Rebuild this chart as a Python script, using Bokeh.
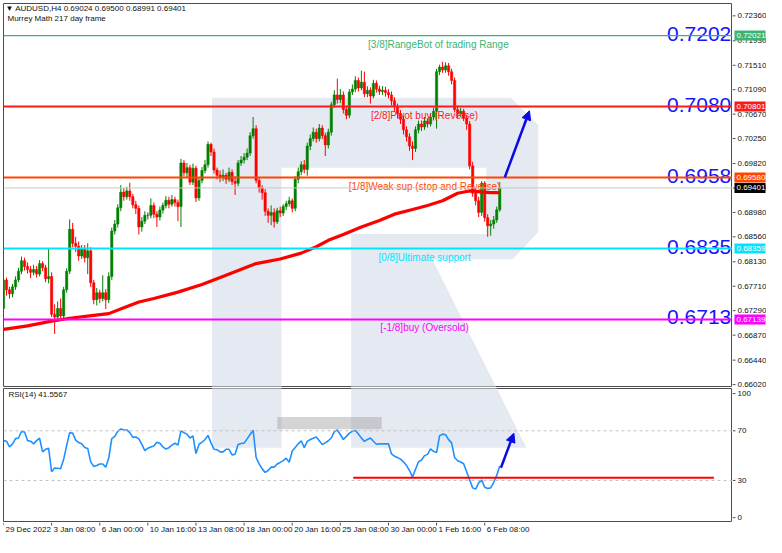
import numpy as np
from bokeh.plotting import figure
from bokeh.layouts import column, row
from bokeh.models import Range1d, Label, Arrow, NormalHead, Span, ColumnDataSource, Spacer
from bokeh.core.properties import value
from bokeh.embed import file_html
from bokeh.resources import INLINE

# ---------------- data ----------------
first_open = 0.6733
close = [0.6782, 0.6765, 0.6758, 0.6770, 0.6782, 0.6797, 0.6815, 0.6805, 0.6800, 0.6795,
         0.6800, 0.6792, 0.6810, 0.6803, 0.6784, 0.6788, 0.6723, 0.6718, 0.6733, 0.6720,
         0.6765, 0.6797, 0.6869, 0.6845, 0.6840, 0.6823, 0.6835, 0.6820, 0.6832, 0.6777,
         0.6748, 0.6760, 0.6750, 0.6760, 0.6748, 0.6788, 0.6866, 0.6878, 0.6906, 0.6933,
         0.6925, 0.6935, 0.6925, 0.6911, 0.6905, 0.6873, 0.6883, 0.6893, 0.6893, 0.6910,
         0.6895, 0.6890, 0.6902, 0.6910, 0.6919, 0.6912, 0.6920, 0.6915, 0.6908, 0.6983,
         0.6966, 0.6975, 0.6950, 0.6974, 0.6923, 0.6953, 0.6970, 0.6980, 0.7015, 0.7002,
         0.6971, 0.6962, 0.6958, 0.6962, 0.6955, 0.6967, 0.6951, 0.6948, 0.6983, 0.6988,
         0.6993, 0.7000, 0.7030, 0.7042, 0.6953, 0.6940, 0.6932, 0.6900, 0.6893, 0.6898,
         0.6882, 0.6901, 0.6897, 0.6908, 0.6913, 0.6918, 0.6905, 0.6955, 0.6968, 0.6980,
         0.6972, 0.7012, 0.7025, 0.7036, 0.7025, 0.7043, 0.7030, 0.7014, 0.7036, 0.7083,
         0.7100, 0.7092, 0.7100, 0.7075, 0.7065, 0.7105, 0.7110, 0.7125, 0.7112, 0.7122,
         0.7102, 0.7108, 0.7098, 0.7120, 0.7110, 0.7106, 0.7108, 0.7104, 0.7100, 0.7090,
         0.7080, 0.7068, 0.7058, 0.7040, 0.7028, 0.7012, 0.7008, 0.7040, 0.7050, 0.7045,
         0.7055, 0.7050, 0.7062, 0.7072, 0.7140, 0.7148, 0.7143, 0.7150, 0.7140, 0.7125,
         0.7075, 0.7068, 0.7072, 0.7060, 0.7050, 0.6978, 0.6931, 0.6918, 0.6898, 0.6948,
         0.6889, 0.6875, 0.6878, 0.6885, 0.69024, 0.69401]
high = [0.6790, 0.6786, 0.6770, 0.6775, 0.6788, 0.6803, 0.6822, 0.6820, 0.6812, 0.6806,
        0.6808, 0.6806, 0.6816, 0.6814, 0.6808, 0.6835, 0.6795, 0.6740, 0.6745, 0.6750,
        0.6770, 0.6802, 0.6886, 0.6880, 0.6856, 0.6848, 0.6842, 0.6842, 0.6845, 0.6838,
        0.6782, 0.6768, 0.6765, 0.6790, 0.6766, 0.6795, 0.6872, 0.6885, 0.6912, 0.6945,
        0.6940, 0.6942, 0.6949, 0.6930, 0.6918, 0.6910, 0.6890, 0.6900, 0.6898, 0.6922,
        0.6915, 0.6900, 0.6908, 0.6915, 0.6926, 0.6925, 0.6928, 0.6925, 0.6920, 0.6990,
        0.6988, 0.6983, 0.6980, 0.6982, 0.6978, 0.6958, 0.6976, 0.6988, 0.7020, 0.7018,
        0.7008, 0.6975, 0.6970, 0.6972, 0.6966, 0.6975, 0.6972, 0.6960, 0.6988, 0.6995,
        0.7000, 0.7008, 0.7036, 0.7062, 0.7048, 0.6958, 0.6945, 0.6938, 0.6905, 0.6910,
        0.6905, 0.6906, 0.6908, 0.6912, 0.6918, 0.6925, 0.6922, 0.6960, 0.6975, 0.6986,
        0.6988, 0.7018, 0.7032, 0.7044, 0.7042, 0.7050, 0.7048, 0.7035, 0.7042, 0.7088,
        0.7108, 0.7128, 0.7110, 0.7106, 0.7080, 0.7110, 0.7118, 0.7132, 0.7130, 0.7142,
        0.7140, 0.7115, 0.7113, 0.7126, 0.7125, 0.7116, 0.7115, 0.7114, 0.7110, 0.7106,
        0.7096, 0.7085, 0.7074, 0.7064, 0.7046, 0.7034, 0.7020, 0.7046, 0.7056, 0.7056,
        0.7062, 0.7060, 0.7068, 0.7078, 0.7145, 0.7152, 0.7157, 0.7156, 0.7155, 0.7145,
        0.7130, 0.7082, 0.7078, 0.7076, 0.7066, 0.7055, 0.6985, 0.6940, 0.6925, 0.6952,
        0.6952, 0.6895, 0.6885, 0.6892, 0.6908, 0.69500]
low = [0.6728, 0.6755, 0.6750, 0.6752, 0.6765, 0.6778, 0.6792, 0.6798, 0.6793, 0.6785,
       0.6790, 0.6786, 0.6788, 0.6797, 0.6778, 0.6776, 0.6718, 0.6689, 0.6710, 0.6712,
       0.6716, 0.6760, 0.6792, 0.6838, 0.6830, 0.6815, 0.6818, 0.6812, 0.6792, 0.6770,
       0.6740, 0.6738, 0.6742, 0.6745, 0.6732, 0.6742, 0.6782, 0.6860, 0.6872, 0.6900,
       0.6918, 0.6920, 0.6918, 0.6905, 0.6895, 0.6860, 0.6865, 0.6878, 0.6886, 0.6888,
       0.6888, 0.6873, 0.6884, 0.6896, 0.6905, 0.6905, 0.6908, 0.6908, 0.6883, 0.6873,
       0.6960, 0.6958, 0.6945, 0.6945, 0.6916, 0.6918, 0.6948, 0.6965, 0.6975, 0.6995,
       0.6965, 0.6955, 0.6950, 0.6952, 0.6947, 0.6950, 0.6945, 0.6928, 0.6943, 0.6978,
       0.6982, 0.6988, 0.6995, 0.7025, 0.6948, 0.6932, 0.6920, 0.6892, 0.6880, 0.6876,
       0.6872, 0.6878, 0.6890, 0.6892, 0.6902, 0.6908, 0.6898, 0.6900, 0.6948, 0.6962,
       0.6965, 0.6961, 0.7005, 0.7020, 0.7018, 0.7020, 0.7024, 0.6995, 0.7008, 0.7030,
       0.7078, 0.7085, 0.7086, 0.7068, 0.7058, 0.7060, 0.7100, 0.7105, 0.7106, 0.7108,
       0.7096, 0.7096, 0.7085, 0.7094, 0.7104, 0.7100, 0.7100, 0.7097, 0.7094, 0.7082,
       0.7072, 0.7060, 0.7050, 0.7032, 0.7020, 0.7004, 0.6988, 0.7002, 0.7034, 0.7038,
       0.7040, 0.7044, 0.7046, 0.7056, 0.7042, 0.7134, 0.7138, 0.7138, 0.7133, 0.7118,
       0.7070, 0.7060, 0.7062, 0.7055, 0.7040, 0.6972, 0.6925, 0.6910, 0.6890, 0.6892,
       0.6882, 0.6856, 0.6858, 0.6870, 0.6880, 0.68991]

ma_bars = [0, 8, 16, 22, 30, 35, 40, 45, 50, 58, 66, 74, 84, 92, 99, 104, 108, 113,
           119, 125, 130, 136, 141, 146, 151, 154, 156, 159, 162, 165]
ma_vals = [0.6697, 0.6703, 0.6711, 0.6716, 0.6721, 0.6724, 0.6734, 0.6744, 0.6750, 0.6761,
           0.6774, 0.6790, 0.6810, 0.6818, 0.6828, 0.6839, 0.6850, 0.6860, 0.6873, 0.6884,
           0.6895, 0.6903, 0.6910, 0.6918, 0.6931, 0.6934, 0.6935, 0.6933, 0.6932, 0.6932]

rsi = [62.1, 61.6, 57.0, 59.5, 63.7, 64.2, 69.5, 69.0, 62.1, 61.6,
       59.5, 62.1, 64.0, 53.0, 55.1, 56.0, 37.0, 40.0, 39.8, 39.4,
       47.0, 58.0, 68.5, 68.1, 62.5, 60.5, 59.5, 56.6, 55.8, 45.0,
       41.3, 42.0, 43.3, 43.3, 40.7, 48.0, 63.7, 65.5, 69.5, 71.5,
       70.7, 70.7, 68.5, 64.7, 65.0, 63.5, 59.0, 54.0, 56.0, 56.9,
       57.7, 60.8, 60.0, 57.0, 55.3, 56.4, 58.5, 60.0, 58.5, 70.0,
       68.5, 67.3, 64.2, 66.0, 51.7, 59.0, 60.8, 63.0, 66.3, 60.3,
       55.1, 54.8, 53.0, 53.0, 55.1, 55.1, 50.6, 51.1, 59.0, 59.8,
       60.1, 63.5, 67.0, 70.5, 48.5, 43.3, 39.3, 36.5, 38.0, 40.7,
       40.7, 43.3, 44.5, 46.0, 47.9, 44.6, 53.7, 56.5, 59.5, 62.0,
       56.5, 61.5, 63.0, 64.0, 65.0, 62.0, 59.0, 60.3, 62.0, 64.2,
       69.4, 70.7, 67.0, 63.0, 65.5, 68.1, 69.6, 70.2, 67.5, 64.2,
       61.5, 63.0, 64.2, 61.6, 59.2, 59.5, 59.5, 59.5, 59.5, 51.5,
       49.5, 48.5, 47.2, 45.0, 42.0, 38.0, 32.8, 39.0, 45.0, 46.5,
       50.0, 51.0, 55.5, 53.5, 52.4, 66.0, 67.3, 66.8, 62.9, 60.3,
       48.5, 45.9, 44.8, 43.5, 37.0, 30.5, 24.0, 23.0, 28.0, 30.2,
       24.5, 23.5, 24.0, 28.5, 34.0, 41.5567]

x_tick_bars = [0, 16, 32, 48, 64, 80, 96, 112, 128, 144, 160]
x_tick_labels = ["29 Dec 2022", "3 Jan 08:00", "6 Jan 00:00", "10 Jan 16:00", "13 Jan 08:00",
                 "18 Jan 00:00", "20 Jan 16:00", "25 Jan 08:00", "30 Jan 00:00", "1 Feb 16:00",
                 "6 Feb 08:00"]
price_ticks = [0.66020, 0.66440, 0.66870, 0.67290, 0.67710, 0.68130, 0.68560, 0.68980,
               0.69400, 0.69820, 0.70250, 0.70670, 0.71090, 0.71510, 0.71930, 0.72360]
price_tick_labels = ["0.66020", "0.66440", "0.66870", "0.67290", "0.67710", "0.68130",
                     "0.68560", "0.68980", "0.69400", "0.69820", "0.70250", "0.70670",
                     "0.71090", "0.71510", "0.71930", "0.72360"]
rsi_ticks = [0, 30, 70, 100]
rsi_tick_labels = ["0", "30", "70", "100"]

mm_levels = [0.72021, 0.70801, 0.69580, 0.68359, 0.67139]
mm_short = ["0.7202", "0.7080", "0.6958", "0.6835", "0.6713"]
mm_box = ["0.72021", "0.70801", "0.69580", "0.68359", "0.67139"]
mm_names = ["[3/8]RangeBot of trading Range", "[2/8]Pivot buy (Reverse)",
            "[1/8]Weak sup (stop and Reverse)", "[0/8]Ultimate support", "[-1/8]buy (Oversold)"]
mm_colors = ["#3cb371", "#ff1a1a", "#ff4500", "#00e5ff", "#ff00ff"]
mm_widths = [1.2, 2, 2, 2, 2]
last_price = 0.69401
last_label = "0.69401"
rsi_support = 32.1
rsi_support_bars = [116.3, 236.2]
arrow_price = [(166.7, 0.69585), (174.9, 0.70728)]
arrow_rsi = [(165.4, 40.2), (169.7, 68.1)]

# ---------------- layout helpers ----------------
FONT = "Liberation Sans"
X0, X1 = 0.0, 242.4
PY0, PY1 = 0.65987, 0.72572
RY0, RY1 = -3.1, 104.1
CW = 732          # chart canvas width (3 px border + 729 px frame)
RW = 34           # right scale strip width
H1, H2, H3 = 387, 135, 15
F1_TOP, F1_H = 3, 383          # main frame position inside its canvas
F2_TOP, F2_H = H1 + 1, 133     # RSI frame position measured from the top of the strip
AX = "#4d4d4d"
TXT = "#111111"

def bx(px):
    return (px - 2.3) / 3.069

def py(px):
    return 0.7236 - (px - 15.7) / 5982.0

def ry(px):
    return (532.0 - px) / 1.277

# watermark outline (reference pixels)
wm_shapes = [
    [(215, 100), (286, 100), (286, 460), (215, 460)],
    [(284, 100), (520, 100), (548, 128), (548, 172), (284, 172)],
    [(495, 170), (548, 170), (548, 238), (522, 266), (495, 266)],
    [(357, 240), (497, 240), (497, 266), (440, 266), (536, 460), (357, 460)],
]
WM = "#e5eaf2"


def base_fig(width, height, xr, yr, **kw):
    f = figure(width=width, height=height, x_range=xr, y_range=yr, toolbar_location=None,
               output_backend="svg", x_axis_location=None, y_axis_location=None, **kw)
    f.grid.visible = False
    f.background_fill_color = "white"
    f.border_fill_color = "white"
    return f


idx = np.arange(len(close))
open_ = np.array([first_open] + close[:-1])
c_arr = np.array(close)
colors = np.where(c_arr > open_, "#008000", np.where(c_arr < open_, "#ff0000", "#404040"))
src = ColumnDataSource(dict(x=idx, h=high, l=low,
                            top=np.maximum(open_, c_arr), bottom=np.minimum(open_, c_arr),
                            color=colors))

# ---------------- main price panel ----------------
p1 = base_fig(CW, H1, Range1d(X0, X1), Range1d(PY0, PY1),
              min_border_left=3, min_border_right=0, min_border_top=F1_TOP,
              min_border_bottom=H1 - F1_TOP - F1_H)
p1.outline_line_color = AX

p1.patches([[bx(x) for x, y in s] for s in wm_shapes],
           [[py(y) for x, y in s] for s in wm_shapes],
           fill_color=WM, line_color=None)

p1.segment(x0="x", y0="l", x1="x", y1="h", color="color", line_width=1, source=src)
p1.vbar(x="x", width=0.78, top="top", bottom="bottom", fill_color="color",
        line_color="color", line_width=0.5, source=src)

p1.add_layout(Span(location=last_price, dimension="width", line_color="#c8c8c8", line_width=1))
for lv, col, lw in zip(mm_levels, mm_colors, mm_widths):
    p1.add_layout(Span(location=lv, dimension="width", line_color=col, line_width=lw))

p1.line(ma_bars, ma_vals, line_color="#ff0000", line_width=3.2)

name_x = [144.6, 140, 140, 140, 140]
p1.text(x=name_x, y=mm_levels, text=mm_names, text_color=mm_colors,
        text_font=value(FONT), text_font_size="10px", text_align="center",
        text_baseline="top", y_offset=3)
p1.text(x=[bx(745)] * 5, y=mm_levels, text=mm_short, text_color="#1414ff",
        text_font=value(FONT), text_font_size="21px", text_align="right",
        text_baseline="alphabetic", y_offset=-2)

p1.add_layout(Arrow(end=NormalHead(size=9, fill_color="#0a0ae6", line_color="#0a0ae6"),
                    x_start=arrow_price[0][0], y_start=arrow_price[0][1],
                    x_end=arrow_price[1][0], y_end=arrow_price[1][1],
                    line_color="#0a0ae6", line_width=2.5))

p1.add_layout(Label(x=2, y=F1_H - 5, x_units="screen", y_units="screen",
                    text="\u25bc AUDUSD,H4  0.69024 0.69500 0.68991 0.69401",
                    text_font=FONT, text_font_size="8px", text_color=TXT,
                    text_baseline="middle"))
p1.add_layout(Label(x=4, y=F1_H - 15, x_units="screen", y_units="screen",
                    text="Murrey Math 217 day frame",
                    text_font=FONT, text_font_size="8px", text_color=TXT,
                    text_baseline="middle"))

# ---------------- RSI panel ----------------
p2 = base_fig(CW, H2, p1.x_range, Range1d(RY0, RY1),
              min_border_left=3, min_border_right=0, min_border_top=F2_TOP - H1,
              min_border_bottom=H2 - (F2_TOP - H1) - F2_H)
p2.outline_line_color = AX

p2.patches([[bx(x) for x, y in s] for s in wm_shapes],
           [[ry(y) for x, y in s] for s in wm_shapes],
           fill_color=WM, line_color=None)
p2.quad(left=bx(281.7), right=bx(388.3), top=ry(428.3), bottom=ry(441),
        fill_color="#a0a0a0", fill_alpha=0.45, line_color=None)

for lv in (70, 30):
    p2.add_layout(Span(location=lv, dimension="width", line_color="#c0c0c0",
                       line_width=1, line_dash="3 3"))

p2.line(list(idx), rsi, line_color="#1e90ff", line_width=1.6)
p2.line(rsi_support_bars, [rsi_support, rsi_support], line_color="#ff0000", line_width=2)
p2.add_layout(Arrow(end=NormalHead(size=9, fill_color="#0a0ae6", line_color="#0a0ae6"),
                    x_start=arrow_rsi[0][0], y_start=arrow_rsi[0][1],
                    x_end=arrow_rsi[1][0], y_end=arrow_rsi[1][1],
                    line_color="#0a0ae6", line_width=2.5))
p2.add_layout(Label(x=5, y=F2_H - 6, x_units="screen", y_units="screen",
                    text="RSI(14) 41.5567", text_font=FONT, text_font_size="8px",
                    text_color=TXT, text_baseline="middle"))

# ---------------- right value scale (one tall strip, two scales) ----------------
SH = H1 + H2
pp = (PY1 - PY0) / F1_H
rp = (RY1 - RY0) / F2_H
pr = base_fig(RW, SH, Range1d(0, RW),
              Range1d(PY0 - (SH - F1_TOP - F1_H) * pp, PY1 + F1_TOP * pp),
              min_border_left=0, min_border_right=0, min_border_top=0, min_border_bottom=0)
pr.extra_y_ranges = {"rsi": Range1d(RY0 - (SH - F2_TOP - F2_H) * rp, RY1 + F2_TOP * rp)}
pr.outline_line_color = None

pr.segment(x0=0, x1=3, y0=price_ticks, y1=price_ticks, line_color=AX, line_width=1)
pr.text(x=5, y=price_ticks, text=price_tick_labels, text_font=value(FONT),
        text_font_size="8px", text_color=TXT, text_baseline="middle", text_align="left")
box_levels = mm_levels + [last_price]
box_text = mm_box + [last_label]
box_colors = mm_colors + ["#000000"]
pr.rect(x=17.5, y=box_levels, width=31, height=10, height_units="screen",
        fill_color=box_colors, line_color=None)
pr.text(x=4, y=box_levels, text=box_text, text_font=value(FONT), text_font_size="8px",
        text_color="white", text_baseline="middle", text_align="left")

pr.segment(x0=0, x1=3, y0=rsi_ticks, y1=rsi_ticks, line_color=AX, line_width=1,
           y_range_name="rsi")
pr.text(x=5, y=rsi_ticks, text=rsi_tick_labels, text_font=value(FONT),
        text_font_size="8px", text_color=TXT, text_baseline="middle", text_align="left",
        y_range_name="rsi")

# ---------------- time scale strip ----------------
p3 = base_fig(CW, H3, p1.x_range, Range1d(H3, 0),
              min_border_left=3, min_border_right=0, min_border_top=0, min_border_bottom=0)
p3.outline_line_color = None
p3.segment(x0=x_tick_bars, x1=x_tick_bars, y0=0, y1=3, line_color=AX, line_width=1)
p3.text(x=x_tick_bars, y=2, text=x_tick_labels, text_font=value(FONT), text_font_size="8px",
        text_color=TXT, text_baseline="top", text_align="left", x_offset=2)

layout = row(column(p1, p2, p3), column(pr, Spacer(width=RW, height=H3)))
open("out.html", "w").write(file_html(layout, INLINE))
